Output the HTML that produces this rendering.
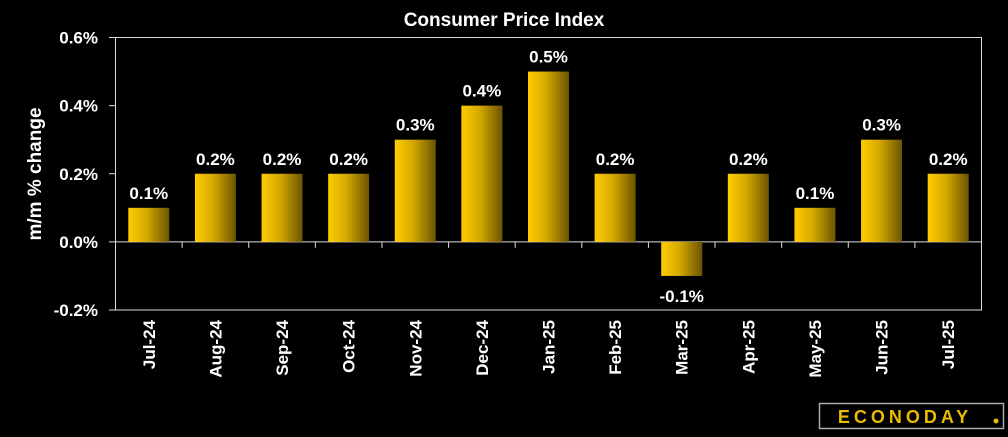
<!DOCTYPE html>
<html><head><meta charset="utf-8"><style>
html,body{margin:0;padding:0;background:#000;}
body{width:1008px;height:432px;overflow:hidden;font-family:"Liberation Sans",sans-serif;}
</style></head><body>
<svg width="1008" height="432" xmlns="http://www.w3.org/2000/svg">
<defs><linearGradient id="g" x1="0" x2="1" y1="0" y2="0"><stop offset="0" stop-color="#ffcc00"/><stop offset="0.45" stop-color="#d4a800"/><stop offset="1" stop-color="#6a5400"/></linearGradient></defs>
<text x="504" y="26" fill="#fff" font-size="19" font-weight="bold" text-anchor="middle">Consumer Price Index</text>
<text transform="translate(41,174) rotate(-90)" fill="#fff" font-size="19" font-weight="bold" text-anchor="middle">m/m % change</text>
<rect x="115.5" y="37.5" width="866" height="272.5" fill="none" stroke="#ddd" stroke-width="1"/>
<g id="ax"></g><g id="bars"></g>
<g>
<rect x="819.5" y="403.5" width="184" height="25" fill="#000" stroke="#aaa" stroke-width="1.5"/>
<text x="905" y="423" fill="#e8bc00" font-size="18" font-weight="bold" text-anchor="middle" letter-spacing="4">ECONODAY</text>
<circle cx="996" cy="421" r="2.5" fill="#e8bc00"/>
</g>
</svg>
<script>
const categories=["Jul-24","Aug-24","Sep-24","Oct-24","Nov-24","Dec-24","Jan-25","Feb-25","Mar-25","Apr-25","May-25","Jun-25","Jul-25"];
const values=[0.1,0.2,0.2,0.2,0.3,0.4,0.5,0.2,-0.1,0.2,0.1,0.3,0.2];
const yTicks=[-0.2,0,0.2,0.4,0.6];
const NS="http://www.w3.org/2000/svg";
const L=115.5,R=981.5,T=37.5,B=310;
const y=v=>B-(v-(-0.2))/(0.8)*(B-T);
const slot=(R-L)/categories.length;
const x=i=>L+slot*i;
const ax=document.getElementById('ax'),bars=document.getElementById('bars');
function mk(t,a,p){const e=document.createElementNS(NS,t);for(const k in a)e.setAttribute(k,a[k]);p.appendChild(e);return e;}
yTicks.forEach(v=>{
 const l=mk('line',{x1:109,x2:L,y1:y(v),y2:y(v),stroke:'#ddd'},ax);
 
 
 const t=mk('text',{x:98,y:y(v)+6,fill:'#fff','font-size':17,'font-weight':'bold','text-anchor':'end'},ax);
 t.textContent=v.toFixed(1)+'%';
 
 
});
const z=mk('line',{x1:L,x2:R,y1:y(0),y2:y(0),stroke:'#ddd'},ax);


for(let i=1;i<categories.length;i++){
 const l=mk('line',{x1:x(i),x2:x(i),y1:y(0),y2:y(0)+6,stroke:'#ddd'},ax);
 
 
}
categories.forEach((c,i)=>{
 const cx=x(i)+slot/2,v=values[i],bw=41;
 const top=Math.min(y(v),y(0)),h=Math.abs(y(v)-y(0));
 const r=mk('rect',{x:cx-bw/2,y:top,width:bw,height:h,fill:'url(#g)'},bars);
 
 
 const t=mk('text',{x:cx,y:v>=0?y(v)-9:y(v)+26,fill:'#fff','font-size':17,'font-weight':'bold','text-anchor':'middle'},bars);
 t.textContent=v.toFixed(1)+'%';
 
 
 const xl=mk('text',{transform:`translate(${cx+6},320) rotate(-90)`,fill:'#fff','font-size':17,'font-weight':'bold','text-anchor':'end'},ax);
 xl.textContent=c;
 
 
});
</script>
</body></html>
